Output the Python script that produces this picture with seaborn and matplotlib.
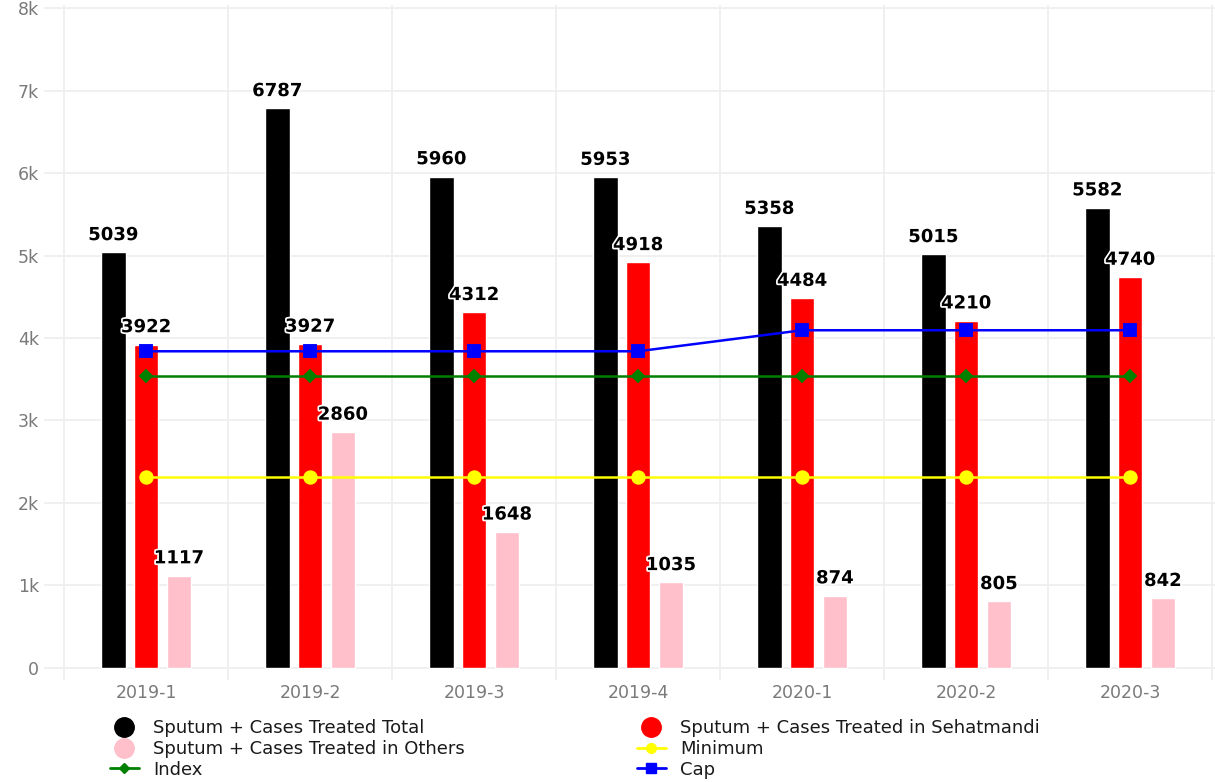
import numpy as np
import pandas as pd
import matplotlib
matplotlib.use("Agg")
import matplotlib.pyplot as plt
import matplotlib.patheffects as pe
from matplotlib.lines import Line2D
import seaborn as sns

# datos
periodos = ['2019-1', '2019-2', '2019-3', '2019-4', '2020-1', '2020-2', '2020-3']
total = [5039, 6787, 5960, 5953, 5358, 5015, 5582]
sehatmandi = [3922, 3927, 4312, 4918, 4484, 4210, 4740]
otros = [1117, 2860, 1648, 1035, 874, 805, 842]
minimo = [2310, 2310, 2310, 2310, 2310, 2310, 2310]
indice = [3545, 3545, 3545, 3545, 3545, 3545, 3545]
cap = [3840, 3840, 3840, 3840, 4095, 4095, 4095]

serie_total = 'Sputum + Cases Treated Total'
serie_sehat = 'Sputum + Cases Treated in Sehatmandi'
serie_otros = 'Sputum + Cases Treated in Others'

sns.set_style('white')
plt.rcParams['font.family'] = ['DejaVu Sans']

df = pd.DataFrame({
    'periodo': periodos * 3,
    'valor': total + sehatmandi + otros,
    'serie': [serie_total] * 7 + [serie_sehat] * 7 + [serie_otros] * 7,
})

fig = plt.figure(figsize=(12.15, 7.82), dpi=100)
ax = fig.add_axes([44 / 1215, 1 - 680 / 782, (1215 - 44) / 1215, (680 - 5) / 782])

sns.barplot(data=df, x='periodo', y='valor', hue='serie',
            palette=['black', 'red', 'pink'], saturation=1,
            width=0.6, gap=0.25, legend=False, ax=ax, zorder=2)

#Etiquetas sobre las barras con borde blanco
for cont in ax.containers:
    ax.bar_label(cont, padding=6, fontsize=13, fontweight='bold', color='black',
                 path_effects=[pe.withStroke(linewidth=2.5, foreground='white')], zorder=6)

sns.pointplot(x=periodos, y=minimo, color='yellow', marker='o', markersize=9,
              linewidth=1.8, errorbar=None, ax=ax)
sns.pointplot(x=periodos, y=indice, color='green', marker='D', markersize=6,
              linewidth=1.8, errorbar=None, ax=ax)
sns.pointplot(x=periodos, y=cap, color='blue', marker='s', markersize=8,
              linewidth=1.8, errorbar=None, ax=ax)

ax.set_xlim(-0.622, 6.518)
ax.set_ylim(-149, 8042)
ax.set_yticks(range(0, 8001, 1000))
ax.set_yticklabels(['0', '1k', '2k', '3k', '4k', '5k', '6k', '7k', '8k'])
ax.set_xticks(range(len(periodos)))
ax.set_xticklabels(periodos)
ax.set_xticks(np.arange(-0.5, len(periodos)), minor=True)
ax.tick_params(axis='both', which='both', length=0, labelsize=12.5, labelcolor='#7a7a7a')
ax.tick_params(axis='x', pad=3)
ax.yaxis.grid(True, color='#efefef', linewidth=1.3, zorder=0)
ax.xaxis.grid(True, which='minor', color='#efefef', linewidth=1.3, zorder=0)
ax.xaxis.grid(False, which='major')
ax.set_axisbelow(True)
ax.set_xlabel('')
ax.set_ylabel('')
sns.despine(ax=ax, left=True, bottom=True)

handles = [
    Line2D([], [], marker='o', color='black', linestyle='', markersize=14),
    Line2D([], [], marker='o', color='pink', linestyle='', markersize=14),
    Line2D([], [], marker='D', color='green', linewidth=2, markersize=5),
    Line2D([], [], marker='o', color='red', linestyle='', markersize=14),
    Line2D([], [], marker='o', color='yellow', linewidth=2, markersize=7),
    Line2D([], [], marker='s', color='blue', linewidth=2, markersize=7),
]
labels = [serie_total, serie_otros, 'Index', serie_sehat, 'Minimum', 'Cap']
leg = fig.legend(handles, labels, ncol=2, loc='upper left', bbox_to_anchor=(110 / 1215, 1 - 719 / 782),
                 frameon=False, fontsize=13, labelspacing=0.16, handlelength=1.6,
                 handletextpad=0.8, columnspacing=9.5, borderaxespad=0, borderpad=0)
for t in leg.get_texts():
    t.set_color('#1a1a1a')

fig.savefig('out.png', dpi=100)
